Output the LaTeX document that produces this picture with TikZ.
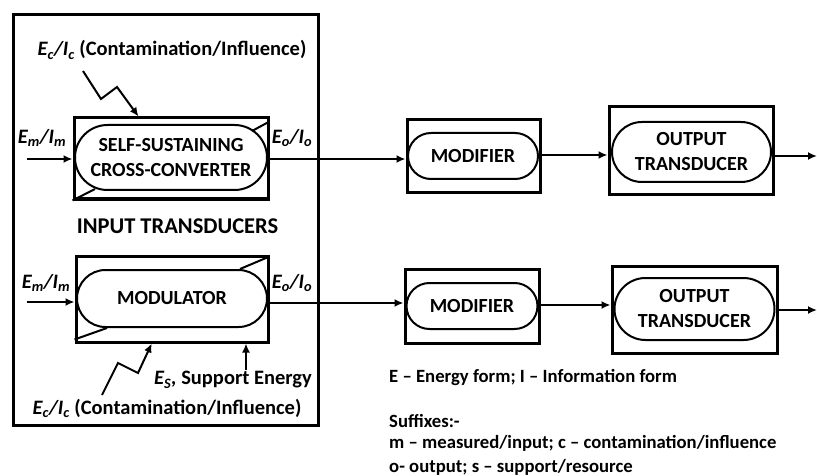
\documentclass[tikz,border=0pt]{standalone}
\usepackage{fontspec}
\setmainfont{Carlito}
\usetikzlibrary{shapes.misc,arrows.meta,calc}
\begin{document}
\begin{tikzpicture}[x=1pt,y=-1pt,
  frame/.style={draw,line width=3pt,inner sep=0pt},
  pill/.style={rounded rectangle,draw,line width=2pt,inner sep=0pt,align=center,
    font=\fontsize{20}{25}\selectfont\bfseries},
  lbl/.style={inner sep=0pt,font=\fontsize{20.5}{24}\selectfont\bfseries},
  big/.style={inner sep=0pt,font=\fontsize{22.5}{26}\selectfont\bfseries},
  legend/.style={inner sep=0pt,anchor=west,font=\fontsize{18.7}{22}\selectfont\bfseries},
  conn/.style={line width=2pt,-{Latex[length=9pt,width=8pt]}},
  wedge/.style={line width=2pt}]
\useasboundingbox (0,0) rectangle (817,476);
% outer input transducers frame
\node[frame,minimum width=305pt,minimum height=410pt] (outer) at (165.5,220) {};
% upper input transducer
\node[frame,minimum width=194pt,minimum height=81pt] (it1) at (171,158.5) {};
\node[pill,minimum width=192pt,minimum height=65pt] (ss) at (171,157.5) {SELF-SUSTAINING\\CROSS-CONVERTER};
\draw[wedge] ($(it1.north east)+(0,5)$) -- ($(ss.north)+(81,7)$);
\draw[wedge] (it1.south west) -- ($(ss.south)+(-76,-2)$);
% lower input transducer
\node[frame,minimum width=192pt,minimum height=86pt] (it2) at (172,299) {};
\node[pill,minimum width=190pt,minimum height=57pt] (mo) at (172,298.5) {MODULATOR};
\draw[wedge] ($(it2.north east)+(0,2)$) -- ($(mo.north)+(68,0)$);
\draw[wedge] ($(it2.south west)+(0,-4)$) -- ($(mo.south)+(-65,0)$);
% modifiers and output transducers
\node[frame,minimum width=133pt,minimum height=73pt] (md1) at (473.5,156.5) {};
\node[pill,minimum width=130pt,minimum height=46pt] (md1p) at (473,156) {MODIFIER};
\node[frame,minimum width=164pt,minimum height=88pt] (ot1) at (691,151) {};
\node[pill,minimum width=159pt,minimum height=60pt] (ot1p) at (691.5,152) {OUTPUT\\TRANSDUCER};
\node[frame,minimum width=134pt,minimum height=74pt] (md2) at (472,306) {};
\node[pill,minimum width=131pt,minimum height=46pt] (md2p) at (472,306) {MODIFIER};
\node[frame,minimum width=165pt,minimum height=87pt] (ot2) at (694.5,309.5) {};
\node[pill,minimum width=160pt,minimum height=62pt] (ot2p) at (694.5,309) {OUTPUT\\TRANSDUCER};
% labels
\node[lbl] (ec1) at (172,50) {\textit{E\textsubscript{c}/I\textsubscript{c}} (Contamination/Influence)};
\node[lbl] (em1) at (42,138) {\textit{E\textsubscript{m}/I\textsubscript{m}}};
\node[lbl] (eo1) at (292,138) {\textit{E\textsubscript{o}/I\textsubscript{o}}};
\node[big] (itl) at (177.5,226) {INPUT TRANSDUCERS};
\node[lbl] (em2) at (46,283) {\textit{E\textsubscript{m}/I\textsubscript{m}}};
\node[lbl] (eo2) at (292,283) {\textit{E\textsubscript{o}/I\textsubscript{o}}};
\node[lbl] (es) at (233,380) {\textit{E\textsubscript{S},} Support Energy};
\node[lbl] (ec2) at (167,408) {\textit{E\textsubscript{c}/I\textsubscript{c}} (Contamination/Influence)};
\node[legend] (lg1) at (389,378) {E -- Energy form; I -- Information form};
\node[legend] (lg2) at (389,421) {Suffixes:-};
\node[legend] (lg3) at (389,443) {m -- measured/input; c -- contamination/influence};
\node[legend] (lg4) at (389,467) {o- output; s -- support/resource};
% free ends
\coordinate (in1) at (27,159);
\coordinate (in2) at (27,302);
\coordinate (out1) at (817,156);
\coordinate (out2) at (817,310);
\coordinate (z1) at (83,71);
\coordinate (z4) at (102,395);
\coordinate (sup) at (246,370);
% connectors
\draw[conn] (in1) -- (in1 -| it1.west);
\draw[conn] (in2) -- (in2 -| it2.west);
\draw[conn] (it1.east |- in1) -- (md1.west |- in1);
\draw[conn] (md1.east |- 0,155) -- (ot1.west |- 0,155);
\draw[conn] (ot1.east |- out1) -- (out1);
\draw[conn] (it2.east |- 0,303) -- (md2.west |- 0,303);
\draw[conn] (md2.east |- 0,305) -- (ot2.west |- 0,305);
\draw[conn] (ot2.east |- out2) -- (out2);
\draw[conn] (z1) -- (101,99) -- (117,87) -- ($(it1.north west)!0.335!(it1.north east)$);
\draw[conn] (z4) -- (118,363) -- (138,373) -- ($(it2.south west)!0.396!(it2.south east)$);
\draw[conn] (sup) -- (sup |- it2.south);
\end{tikzpicture}
\end{document}
